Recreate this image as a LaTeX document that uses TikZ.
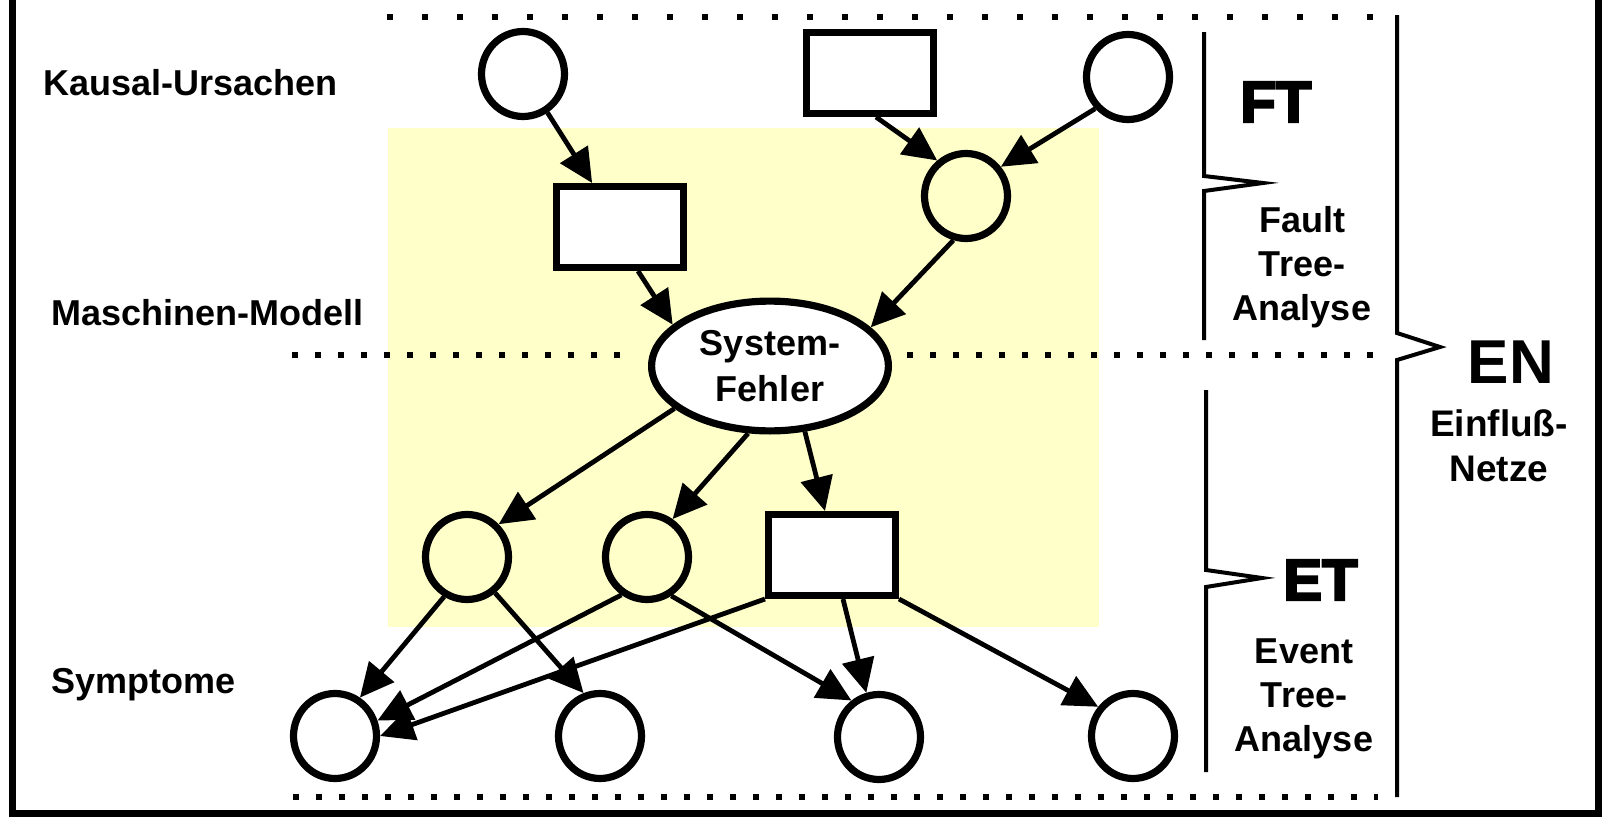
\documentclass[tikz,border=0pt]{standalone}
\usepackage{fontspec}
\setmainfont{Liberation Sans}
\newfontfamily\dickschrift{Liberation Sans}[UprightFont=* Bold, FakeBold=4]
\usepackage{xcolor}
\usepackage{tikz}
\usetikzlibrary{arrows.meta, shapes.geometric}

\definecolor{hellgelb}{RGB}{255,255,202}

\begin{document}
\begin{tikzpicture}[
    x=0.5pt, y=-0.5pt,
    >={Triangle[length=17pt,width=16pt]},
    kreis/.style={
        ellipse,
        draw,
        line width=3.6pt,
        minimum width=41.5pt,
        minimum height=42.5pt,
        inner sep=0pt
    },
    kasten/.style={
        rectangle,
        draw,
        fill=white,
        line width=3.6pt,
        minimum width=63.4pt,
        minimum height=40.4pt,
        inner sep=0pt
    },
    fehler/.style={
        ellipse,
        draw,
        fill=white,
        line width=3.6pt,
        minimum width=118.4pt,
        minimum height=64.9pt,
        inner sep=0pt,
        align=center,
        font=\fontsize{18}{23}\selectfont\bfseries
    },
    etikett/.style={inner sep=0pt, font=\fontsize{18}{22}\selectfont\bfseries},
    kuerzel/.style={inner sep=0pt, font=\fontsize{29}{29}\selectfont\dickschrift},
    pfeil/.style={->, line width=2.4pt},
    klammer/.style={line width=2pt, line join=miter},
    punkte/.style={line width=3pt, dash pattern=on 3pt off 8.5pt}
]
\useasboundingbox (0,0) rectangle (1614,835);

\fill[hellgelb] (388,128) rectangle (1099,627);

\draw[punkte, dash pattern=on 3pt off 14.5pt] (387,17) -- (1378,17);
\draw[punkte] (292,355) -- (627,355);
\draw[punkte] (907,355) -- (1382,355);
\draw[punkte] (293,797) -- (1378,797);

\draw[line width=3.5pt] (12,0) -- (12,813) -- (1598,813) -- (1598,0);

\draw[klammer] (1204,32) -- (1204,176) -- (1263,183) -- (1204,191) -- (1204,340);
\draw[klammer] (1206,390) -- (1206,570) -- (1262,578) -- (1206,587) -- (1206,772);
\draw[klammer] (1397,15) -- (1397,333) -- (1440,347) -- (1397,360) -- (1397,797);

\node[etikett, anchor=base west] (ursachen) at (43,95) {Kausal-Ursachen};
\node[etikett, anchor=base west] (modell) at (51,325) {Maschinen-Modell};
\node[etikett, anchor=base west] (symptome) at (51,693) {Symptome};

\node[kuerzel, anchor=base west] (ft) at (1240,122) {FT};
\node[etikett, align=center] (fta) at (1302,267) {Fault\\Tree-\\Analyse};
\node[kuerzel, anchor=base west] (et) at (1283,600) {ET};
\node[etikett, align=center] (eta) at (1304,699) {Event\\Tree-\\Analyse};
\node[inner sep=0pt, anchor=base, font=\fontsize{31}{31}\selectfont\bfseries] (en) at (1511,383) {EN};
\node[inner sep=0pt, align=center, font=\fontsize{18.5}{22.5}\selectfont\bfseries] (enn) at (1499,446) {Einfluß-\\Netze};

\node[kreis] (k1) at (523,74) {};
\node[kasten] (k2) at (870,73) {};
\node[kreis] (k3) at (1128,77) {};
\node[kasten] (m1) at (620,227) {};
\node[kreis] (m2) at (966,196) {};
\node[fehler] (sf) at (770,366) {System-\\Fehler};
\node[kreis] (e1) at (467,557) {};
\node[kreis] (e2) at (647,557) {};
\node[kasten] (e3) at (832,555) {};
\node[kreis] (s1) at (335,736) {};
\node[kreis] (s2) at (600,736) {};
\node[kreis] (s3) at (879,737) {};
\node[kreis] (s4) at (1133,736) {};

\draw[pfeil] (k1) -- (m1);
\draw[pfeil] ([xshift=3pt]k2.south) -- (m2.129);
\draw[pfeil] (k3.224) -- (m2.40);
\draw[pfeil] ([xshift=9pt]m1.south) -- (sf.157);
\draw[pfeil] (m2.254) -- (sf.21);
\draw[pfeil] (sf.204) -- (e1.46);
\draw[pfeil] (sf.252) -- (e2.56);
\draw[pfeil] (sf.298) -- ([xshift=-3.5pt]e3.north);
\draw[pfeil] (e1.240) -- (s1.57);
\draw[pfeil] (e1.308) -- (s2.111);
\draw[pfeil] (e2.236) -- (s1.20);
\draw[pfeil] (e2.302) -- (s3.127);
\draw[pfeil] (e3.south west) -- (s1.0);
\draw[pfeil] ([xshift=5.5pt]e3.south) -- (s3.106);
\draw[pfeil] (e3.south east) -- (s4.140);

\end{tikzpicture}
\end{document}
